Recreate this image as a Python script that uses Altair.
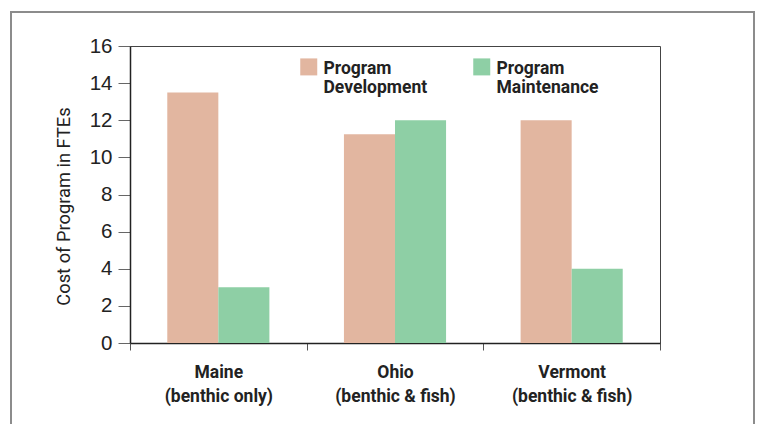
import altair as alt
import pandas as pd

# ---- data ----
states = ["Maine", "Ohio", "Vermont"]
notes = ["(benthic only)", "(benthic & fish)", "(benthic & fish)"]
series = ["Program Development", "Program Maintenance"]
development = [13.5, 11.25, 12.0]
maintenance = [3.0, 12.0, 4.0]
y_ticks = [0, 2, 4, 6, 8, 10, 12, 14, 16]
colors = ["#E2B6A0", "#8ECFA5"]

categories = [f"{s} {n}" for s, n in zip(states, notes)]
rows = []
for cat, d, m in zip(categories, development, maintenance):
    rows.append({"site": cat, "series": series[0], "fte": d})
    rows.append({"site": cat, "series": series[1], "fte": m})
df = pd.DataFrame(rows)

W, H = 530, 297
COND = "Roboto, Liberation Sans Narrow, sans-serif"
REG = "Liberation Sans, Arial, sans-serif"

frame = alt.Chart(alt.Data(values=[{}])).mark_rect(
    fillOpacity=0, stroke="#8c8c8c", strokeWidth=2
).encode(
    x=alt.value(-119), x2=alt.value(624), y=alt.value(-34), y2=alt.value(430)
)

bars = alt.Chart(df).mark_bar().encode(
    x=alt.X(
        "site:N",
        sort=categories,
        scale=alt.Scale(paddingInner=0, paddingOuter=0),
        axis=alt.Axis(
            title=None,
            labelAngle=0,
            tickBand="extent",
            tickSize=7,
            tickColor="#555",
            domainColor="#222",
            domainWidth=1.5,
            labelFont=COND,
            labelFontWeight="bold",
            labelFontSize=17.5,
            labelLineHeight=24,
            labelPadding=13,
            labelColor="#222",
            labelExpr="indexof(datum.label, ' (') < 0 ? '' : [split(datum.label, ' (')[0], '(' + split(datum.label, ' (')[1]]",
        ),
    ),
    xOffset=alt.XOffset(
        "series:N", sort=series, scale=alt.Scale(paddingInner=0, paddingOuter=0.73)
    ),
    y=alt.Y(
        "fte:Q",
        scale=alt.Scale(domain=[0, 16], nice=False),
        axis=alt.Axis(
            values=y_ticks,
            title="Cost of Program in FTEs",
            grid=False,
            tickSize=12,
            tickColor="#666",
            domainColor="#222",
            domainWidth=1.5,
            labelFont=REG,
            labelFontSize=20.5,
            labelPadding=6,
            labelColor="#222",
            titleFont=COND,
            titleFontSize=18.3,
            titleFontWeight="normal",
            titleColor="#222",
            titlePadding=16,
            titleY=160,
        ),
    ),
    color=alt.Color(
        "series:N",
        scale=alt.Scale(domain=series, range=colors),
        legend=alt.Legend(
            title=None,
            orient="none",
            legendX=170,
            legendY=19,
            direction="horizontal",
            columnPadding=45,
            padding=0,
            symbolType="M-1,-1.82L1,-1.82L1,0.18L-1,0.18Z",
            symbolSize=289,
            symbolStrokeWidth=0,
            labelFont=COND,
            labelFontWeight="bold",
            labelFontSize=17.5,
            labelBaseline="alphabetic",
            labelOffset=6,
            labelColor="#222",
            labelLimit=0,
            labelExpr="split(datum.label, ' ')",
        ),
    ),
)

chart = alt.layer(frame, bars).properties(
    width=W,
    height=H,
    autosize=alt.AutoSizeParams(type="none"),
    padding={"left": 122, "top": 38, "right": 95, "bottom": 81},
).configure_view(stroke="#444", strokeWidth=1)

chart.save("out.html", embed_options={"renderer": "svg", "actions": False})
